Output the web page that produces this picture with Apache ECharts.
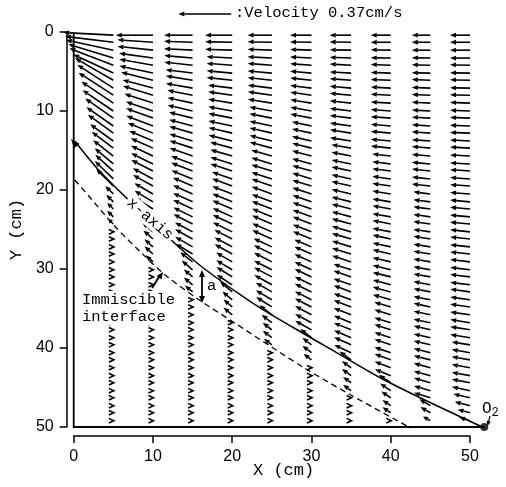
<!DOCTYPE html>
<html>
<head>
<meta charset="utf-8">
<script src="https://cdn.jsdelivr.net/npm/echarts/dist/echarts.min.js"></script>
<style>
  html, body { margin: 0; padding: 0; background: #fff; }
  #chart { width: 506px; height: 487px; }
</style>
</head>
<body>
<div id="chart"></div>
<script>
// column positions (cm) and row depths (cm) of the velocity grid
var colX = [5, 10, 15, 20, 25, 30, 35, 40, 45, 50];
var rowY = [0.4, 1.3, 2.3, 3.3, 4.2, 5.2, 6.1, 7.1, 8.0, 9.0, 10.0, 10.9, 11.9, 12.8, 13.8, 14.7,
  15.7, 16.7, 17.6, 18.6, 19.5, 20.5, 21.5, 22.4, 23.4, 24.3, 25.3, 26.2, 27.2, 28.1, 29.1, 30.1,
  31.0, 32.0, 32.9, 33.9, 34.8, 35.8, 36.8, 37.7, 38.7, 39.6, 40.6, 41.5, 42.5, 43.5, 44.4, 45.4,
  46.3, 47.3, 48.2, 49.2];

// speed (cm/s) and angle (deg, arrows point left and up) per column, from the top row down;
// rows past the end of a list are stagnant (drawn as small chevrons)
var speed5 = [.35,.34,.34,.33,.33,.31,.31,.30,.29,.27,.26,.24,.23,.22,.20,.19,.18,.17,.17,.18,.17,.08,.07,.06,.06,.05];
var angle5 = [3,7,12,17,21,25,30,33,33,34,34,35,35,36,36,37,38,40,42,44,45,45,45,45,45,45];

var speed10 = [.26,.25,.25,.24,.24,.24,.23,.22,.22,.21,.20,.20,.20,.19,.18,.17,.17,.17,.17,.16,.16,.15,.15,.15,.14,
  .13,.10,.09,.08,.08,.07];
var angle10 = [0,4,6,8,10,12,14,15,17,18,19,20,21,22,23,24,25,26,27,28,29,30,31,32,34,40,42,42,42,42,42];

var speed15 = [.20,.20,.20,.20,.20,.19,.19,.19,.18,.18,.18,.17,.17,.17,.17,.17,.17,.16,.16,.16,.15,.15,.15,.15,.15,
  .15,.14,.14,.14,.14,.11,.10,.08,.08,.07];
var angle15 = [0,2,3,5,6,7,9,10,11,12,13,14,15,16,17,18,19,20,21,22,23,24,24,25,26,27,28,29,30,31,38,40,40,40,40];

var speed20 = [.19,.19,.19,.18,.18,.18,.18,.17,.17,.17,.17,.17,.17,.17,.17,.16,.16,.16,.16,.15,.15,.15,.15,.15,.15,
  .15,.15,.14,.14,.14,.13,.13,.13,.13,.11,.09,.08,.08];
var angle20 = [0,1,2,3,4,5,6,7,8,9,10,11,12,13,14,15,16,17,18,19,20,21,22,23,24,25,26,27,28,29,30,31,32,33,
  40,40,40,40];

var speed25 = [.17,.17,.17,.17,.17,.17,.17,.17,.17,.17,.16,.16,.16,.16,.16,.16,.15,.15,.15,.15,.15,.15,.15,.15,.15,
  .15,.15,.15,.14,.14,.14,.14,.14,.14,.13,.13,.13,.11,.09,.08,.08,.07];
var angle25 = [0,1,2,3,4,5,6,7,8,9,10,11,12,13,14,15,16,17,17,18,19,20,20,21,22,23,23,24,25,26,27,27,28,29,30,31,32,
  38,38,38,38,38];

var speed30 = [.15,.15,.15,.15,.15,.15,.15,.15,.15,.15,.15,.15,.14,.14,.14,.14,.14,.14,.14,.14,.14,.14,.14,.14,.14,
  .14,.14,.14,.13,.13,.13,.13,.13,.13,.13,.13,.13,.13,.13,.13,.10,.08,.08,.07];
var angle30 = [0,1,2,3,4,5,6,7,8,9,10,11,12,12,13,14,15,15,16,17,17,18,19,19,20,21,21,22,23,23,24,25,25,26,26,27,27,
  28,28,29,38,38,38,38];

var speed35 = [.15,.15,.15,.15,.15,.15,.15,.15,.15,.15,.15,.15,.15,.15,.15,.14,.14,.14,.14,.14,.14,.14,.14,.14,.14,
  .14,.14,.14,.14,.14,.14,.13,.13,.13,.13,.13,.13,.13,.13,.13,.13,.13,.13,.10,.08,.08,.07,.07];
var angle35 = [0,1,1,2,3,3,4,5,5,6,7,7,8,9,9,10,11,11,12,12,13,13,14,14,15,15,16,16,17,17,18,18,19,19,20,20,21,21,
  22,22,23,24,25,36,36,36,36,36];

var speed40 = [.14,.14,.14,.14,.14,.14,.14,.14,.14,.14,.14,.14,.14,.14,.14,.14,.13,.13,.13,.13,.13,.13,.13,.13,.13,
  .13,.13,.13,.13,.13,.13,.13,.13,.13,.13,.13,.12,.12,.12,.12,.12,.12,.12,.12,.12,.12,.10,.09,.08,.07,.07];
var angle40 = [0,0,1,1,2,2,2,3,3,3,4,4,5,5,5,6,6,7,7,8,8,9,9,10,10,11,11,12,12,13,13,14,14,15,15,16,16,17,17,18,
  18,19,19,20,21,22,34,34,34,34,34];

var speed45 = [.13,.13,.13,.13,.13,.13,.13,.13,.13,.13,.13,.13,.13,.13,.13,.13,.13,.13,.13,.13,.13,.12,.12,.12,.12,
  .12,.12,.12,.12,.12,.12,.12,.12,.12,.12,.12,.12,.12,.12,.12,.12,.12,.12,.12,.12,.12,.12,.12,.12,.09,.08,.06];
var angle45 = [0,0,0,1,1,1,2,2,2,3,3,3,4,4,4,5,5,5,6,6,6,7,7,7,8,8,8,9,9,9,10,10,10,11,11,11,12,12,12,13,13,13,
  14,14,15,15,16,16,17,30,30,30];

var speed50 = [.14,.14,.14,.14,.14,.14,.14,.14,.14,.14,.14,.14,.14,.14,.14,.14,.14,.14,.14,.14,.14,.14,.14,.14,.14,
  .14,.14,.14,.14,.14,.14,.14,.14,.14,.14,.14,.14,.14,.14,.14,.14,.13,.13,.13,.13,.13,.13,.13,.12,.11,.09,.08];
var angle50 = [0,0,0,0,1,1,1,1,1,2,2,2,2,2,3,3,3,3,4,4,4,4,5,5,5,5,6,6,6,6,7,7,7,7,8,8,8,8,9,9,9,9,10,10,10,10,
  11,12,13,14,15,17];

var speeds = [speed5, speed10, speed15, speed20, speed25, speed30, speed35, speed40, speed45, speed50];
var angles = [angle5, angle10, angle15, angle20, angle25, angle30, angle35, angle40, angle45, angle50];

// curves (X cm, Y cm)
var xAxisCurve = [[0.13,13.8],[3.14,17.47],[6.92,21.27],[12.7,26.71],[16.35,29.87],[22.39,34.18],
  [27.8,37.47],[33.71,40.89],[38.74,43.8],[43.77,46.33],[51.82,50.13]];
var interfaceCurve = [[0.13,18.73],[2.01,20.89],[5.16,24.56],[8.55,27.97],[11.7,30.89],[15.85,33.92],
  [20.13,36.71],[25.16,40.0],[29.31,42.66],[34.97,45.95],[42.52,50.13]];
var frame = [[0, 0], [0, 50], [51.8, 50]];
var o2Point = [[51.8, 50]];
var refSpeed = 0.37;
var refPos = [19.87, -2.28];

var VEL_CM = 18; // cm of x axis per 1 cm/s

var vectors = [];
for (var c = 0; c < colX.length; c++) {
  for (var r = 0; r < rowY.length; r++) {
    var v = r < speeds[c].length ? speeds[c][r] : 0;
    var a = r < angles[c].length ? angles[c][r] : 0;
    vectors.push([colX[c], rowY[r], v, a]);
  }
}

function renderVector(params, api) {
  var p = api.coord([api.value(0), api.value(1)]);
  var v = api.value(2);
  if (!v) {
    return {
      type: 'polyline',
      shape: { points: [[p[0] - 4.5, p[1] - 2.3], [p[0] + 0.5, p[1]], [p[0] - 4.5, p[1] + 2.3]] },
      style: { stroke: '#000', lineWidth: 1.6, fill: null }
    };
  }
  var len = v * api.size([VEL_CM, 0])[0];
  var ang = api.value(3) * Math.PI / 180;
  var ux = -Math.cos(ang), uy = -Math.sin(ang);
  var hx = p[0] + ux * len, hy = p[1] + uy * len;
  var hl = Math.min(6, len * 0.6), hw = 2.4;
  var bx = hx - ux * hl, by = hy - uy * hl;
  return {
    type: 'group',
    children: [
      { type: 'line', shape: { x1: p[0], y1: p[1], x2: bx, y2: by }, style: { stroke: '#000', lineWidth: 1.6 } },
      { type: 'polygon', shape: { points: [[hx, hy], [bx - uy * hw, by + ux * hw], [bx + uy * hw, by - ux * hw]] },
        style: { fill: '#000' } }
    ]
  };
}

// one polyline per series, built from the named point lists above
function curveSeries(name, pts, smooth, style) {
  return {
    type: 'custom', name: name, clip: false, data: [0], z: 4,
    renderItem: function (params, api) {
      var px = pts.map(function (d) { return api.coord(d); });
      return { type: 'polyline', shape: { points: px, smooth: smooth }, style: style };
    }
  };
}

function arrowHead(tip, from, l, w) {
  var dx = tip[0] - from[0], dy = tip[1] - from[1];
  var d = Math.sqrt(dx * dx + dy * dy);
  dx /= d; dy /= d;
  var bx = tip[0] - dx * l, by = tip[1] - dy * l;
  return {
    type: 'polygon', z: 100,
    shape: { points: [tip, [bx - dy * w, by + dx * w], [bx + dy * w, by - dx * w]] },
    style: { fill: '#000' }
  };
}

var mono = '"Liberation Mono", "DejaVu Sans Mono", monospace';

var option = {
  animation: false,
  backgroundColor: '#fff',
  grid: { left: 72, top: 32, width: 398, height: 395 },
  xAxis: {
    type: 'value', min: 0, max: 50, interval: 10, offset: 9, position: 'bottom',
    axisLine: { show: true, onZero: false, lineStyle: { color: '#000', width: 1.5 } },
    axisTick: { show: true, length: 7, lineStyle: { color: '#000', width: 1.5 } },
    axisLabel: { margin: 13, color: '#000', fontSize: 16, fontFamily: '"Liberation Sans", Arial' },
    splitLine: { show: false }
  },
  yAxis: {
    type: 'value', min: 0, max: 50, interval: 10, inverse: true, offset: 7, position: 'left',
    name: 'Y (cm)', nameLocation: 'middle', nameGap: 37, nameRotate: 90,
    nameTextStyle: { color: '#000', fontSize: 17, fontFamily: mono },
    axisLine: { show: true, onZero: false, lineStyle: { color: '#000', width: 1.5 } },
    axisTick: { show: true, length: 7, lineStyle: { color: '#000', width: 1.5 } },
    axisLabel: { margin: 13, color: '#000', fontSize: 16, fontFamily: '"Liberation Sans", Arial' },
    splitLine: { show: false }
  },
  series: [
    {
      type: 'custom', name: 'velocity', clip: false, renderItem: renderVector,
      data: vectors, z: 3
    },
    {
      type: 'custom', name: 'reference', clip: false, renderItem: renderVector,
      data: [[refPos[0], refPos[1], refSpeed, 0]], z: 3
    },
    curveSeries('frame', frame, 0, { stroke: '#000', lineWidth: 1.8, fill: null }),
    curveSeries('x-axis', xAxisCurve, 0.3, { stroke: '#000', lineWidth: 1.5, fill: null }),
    curveSeries('interface', interfaceCurve, 0.3, { stroke: '#000', lineWidth: 1.3, fill: null, lineDash: [6, 4] }),
    {
      type: 'scatter', name: 'O2', data: o2Point, symbol: 'circle', symbolSize: 8, clip: false,
      itemStyle: { color: '#000' }, z: 5
    }
  ],
  graphic: [
    { type: 'text', left: 235, top: 5, z: 100,
      style: { text: ':Velocity 0.37cm/s', font: '15.5px ' + mono, fill: '#000' } },
    { type: 'text', x: 150, y: 219, rotation: -0.72, z: 100,
      style: { text: 'x-axis', font: '15.5px ' + mono, fill: '#000', align: 'center', verticalAlign: 'middle',
        backgroundColor: '#fff', padding: [0, 2] } },
    { type: 'text', x: 81, y: 291, z: 100,
      style: { text: 'Immiscible\ninterface', font: '15.5px ' + mono, fill: '#000', lineHeight: 17,
        backgroundColor: '#fff', padding: [0, 1] } },
    { type: 'text', x: 207, y: 286, z: 100,
      style: { text: 'a', font: '15.5px ' + mono, fill: '#000', verticalAlign: 'middle' } },
    { type: 'text', x: 253, y: 470, z: 100,
      style: { text: 'X (cm)', font: '17px ' + mono, fill: '#000', verticalAlign: 'middle' } },
    { type: 'text', x: 482, y: 409, z: 100,
      style: { text: 'O{s|2}', font: '16px ' + mono, fill: '#000', verticalAlign: 'middle',
        rich: { s: { fontSize: 12, fontFamily: mono, padding: [8, 0, 0, 0] } } } },
    // arrowhead at the start of the x-axis curve
    arrowHead([71, 139], [97, 170], 9, 3.5),
    // "a" double arrow
    { type: 'line', z: 100, shape: { x1: 202, y1: 275, x2: 202, y2: 298 }, style: { stroke: '#000', lineWidth: 1.8 } },
    arrowHead([202, 270], [202, 303], 7, 3),
    arrowHead([202, 303], [202, 270], 7, 3),
    // pointer to interface
    { type: 'line', z: 100, shape: { x1: 152, y1: 288, x2: 159, y2: 277 }, style: { stroke: '#000', lineWidth: 2 } },
    arrowHead([163, 272], [152, 288], 7, 3),
    // pointer to O2
    { type: 'line', z: 100, shape: { x1: 490, y1: 416, x2: 488.5, y2: 422 }, style: { stroke: '#000', lineWidth: 1.2 } },
    arrowHead([487.5, 426], [490, 416], 5, 2.2)
  ]
};

echarts.init(document.getElementById('chart')).setOption(option);
</script>
</body>
</html>
